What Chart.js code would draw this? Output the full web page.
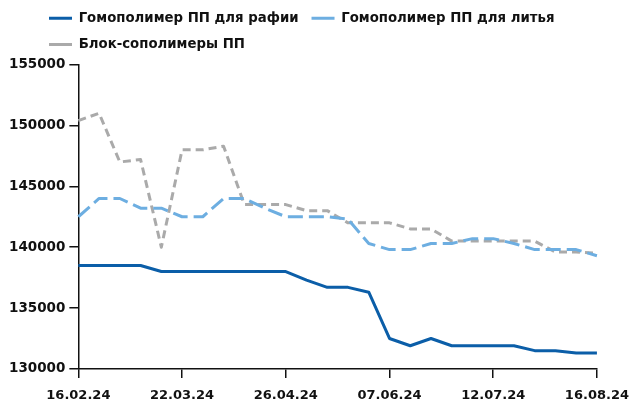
<!DOCTYPE html>
<html lang="ru">
<head>
<meta charset="utf-8">
<title>Цены на полипропилен</title>
<script src="https://cdn.jsdelivr.net/npm/chart.js@4.4.1/dist/chart.umd.min.js"></script>
<style>
  html, body { margin: 0; padding: 0; background: #fff; }
  #wrap { width: 636px; height: 403px; position: relative; }
</style>
</head>
<body>
<div id="wrap"><canvas id="grafico"></canvas></div>
<script>
// недели (10.05 пропущена)
const fechas = [
  '16.02.24', '23.02.24', '01.03.24', '08.03.24', '15.03.24',
  '22.03.24', '29.03.24', '05.04.24', '12.04.24', '19.04.24',
  '26.04.24', '03.05.24', '17.05.24', '24.05.24', '31.05.24',
  '07.06.24', '14.06.24', '21.06.24', '28.06.24', '05.07.24',
  '12.07.24', '19.07.24', '26.07.24', '02.08.24', '09.08.24',
  '16.08.24'
];

const rafia = [
  138500, 138500, 138500, 138500, 138000,
  138000, 138000, 138000, 138000, 138000,
  138000, 137300, 136700, 136700, 136300,
  132500, 131900, 132500, 131900, 131900,
  131900, 131900, 131500, 131500, 131300,
  131300
];

const litio = [
  142500, 144000, 144000, 143200, 143200,
  142500, 142500, 144000, 144000, 143200,
  142500, 142500, 142500, 142300, 140300,
  139800, 139800, 140300, 140300, 140700,
  140700, 140300, 139800, 139800, 139800,
  139300
];

const bloque = [
  150400, 151000, 147000, 147200, 140000,
  148000, 148000, 148300, 143500, 143500,
  143500, 143000, 143000, 142000, 142000,
  142000, 141500, 141500, 140500, 140500,
  140500, 140500, 140500, 139600, 139600,
  139500
];

const nombres = ['Гомополимер ПП для рафии', 'Гомополимер ПП для литья', 'Блок-сополимеры ПП'];

const fuente = 'DejaVu Sans';
Chart.defaults.font.family = fuente;
Chart.defaults.color = '#111';

// mover la leyenda: a la izquierda y arriba
const moverLeyenda = {
  id: 'moverLeyenda',
  beforeDraw(chart) {
    if (chart.legend) {
      chart.legend.left = 36;
      chart.legend.top = -1.5;
    }
  }
};

const grafico = document.getElementById('grafico');
const chart = new Chart(grafico, {
  type: 'line',
  data: {
    labels: fechas,
    datasets: [
      {
        label: nombres[0],
        data: rafia,
        borderColor: '#0b5ea8',
        backgroundColor: '#0b5ea8',
        borderWidth: 3
      },
      {
        label: nombres[1],
        data: litio,
        borderColor: '#6daee1',
        backgroundColor: '#6daee1',
        borderWidth: 3,
        borderDash: [15, 6]
      },
      {
        label: nombres[2],
        data: bloque,
        borderColor: '#aaaaaa',
        backgroundColor: '#aaaaaa',
        borderWidth: 3,
        borderDash: [8, 5]
      }
    ]
  },
  options: {
    responsive: true,
    maintainAspectRatio: false,
    animation: false,
    layout: { padding: { left: 5, right: 0, top: 2, bottom: -11 } },
    elements: {
      point: { radius: 0, hoverRadius: 0 },
      line: { tension: 0, borderJoinStyle: 'round' }
    },
    plugins: {
      legend: {
        position: 'top',
        align: 'start',
        labels: {
          usePointStyle: true,
          pointStyle: 'line',
          pointStyleWidth: 23,
          padding: 13,
          color: '#111',
          font: { size: 13.3, weight: 'bold' }
        }
      },
      tooltip: { enabled: false }
    },
    scales: {
      x: {
        grid: { drawOnChartArea: false, drawTicks: true, tickLength: 9, color: '#111', lineWidth: 1.5 },
        border: { color: '#111', width: 1.5 },
        ticks: {
          autoSkip: false,
          maxRotation: 0,
          padding: 7,
          color: '#111',
          font: { size: 13, weight: 'bold', lineHeight: 1.7 },
          callback: (v, i) => (i % 5 === 0 ? fechas[i] : null)
        }
      },
      y: {
        min: 130000,
        max: 155000,
        grid: { drawOnChartArea: false, drawTicks: true, tickLength: 9, color: '#111', lineWidth: 1.5 },
        border: { color: '#111', width: 1.5 },
        ticks: {
          stepSize: 5000,
          padding: 4,
          color: '#111',
          font: { size: 13.5, weight: 'bold' },
          callback: (v) => String(v)
        }
      }
    }
  },
  plugins: [moverLeyenda]
});
</script>
</body>
</html>
